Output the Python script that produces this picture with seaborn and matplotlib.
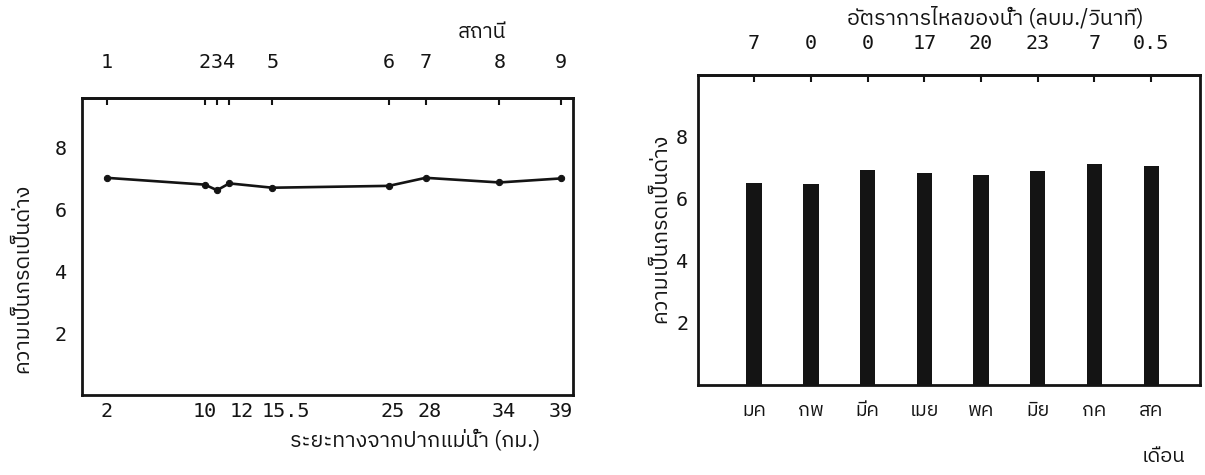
import matplotlib
matplotlib.use("Agg")
import matplotlib.pyplot as plt
import matplotlib.transforms as mtransforms
import seaborn as sns
from matplotlib import font_manager
from matplotlib.ft2font import FT2Font
from matplotlib.ticker import MultipleLocator

# ---------------- data ----------------
station_labels = ["1", "2", "3", "4", "5", "6", "7", "8", "9"]
distance_km = [2, 10, 11, 12, 15.5, 25, 28, 34, 39]
distance_labels = ["2", "10", "", "12", "15.5", "25", "28", "34", "39"]
ph_station = [7.02, 6.80, 6.62, 6.84, 6.70, 6.76, 7.02, 6.87, 7.00]

months = ["มค", "กพ", "มีค", "เมย", "พค", "มิย", "กค", "สค"]
ph_month = [6.52, 6.47, 6.93, 6.84, 6.79, 6.91, 7.14, 7.07]
flow_labels = ["7", "0", "0", "17", "20", "23", "7", "0.5"]

y_major = [2, 4, 6, 8]

# ---------------- fonts ----------------
def find_thai_fonts():
    found = []
    for f in font_manager.fontManager.ttflist:
        try:
            cm = FT2Font(f.fname).get_charmap()
        except Exception:
            continue
        if 0x0E01 in cm and 0x0E49 in cm and f.name not in found:
            found.append(f.name)
    found.sort(key=lambda n: (0 if "Sans" in n else 1, n))
    return found

thai = find_thai_fonts()
sns.set_theme(style="white")
fam_text = thai[:1] + ["DejaVu Sans"]
fam_num = ["DejaVu Sans Mono"] + thai[:1] + ["DejaVu Sans"]
plt.rcParams["font.family"] = fam_text
plt.rcParams["axes.linewidth"] = 2.0

fig = plt.figure(figsize=(12.05, 4.75), dpi=100)
fig.patch.set_facecolor("white")

W, H = 1205.0, 475.0
def box(x0, x1, ytop, ybot):
    return [x0 / W, 1 - ybot / H, (x1 - x0) / W, (ybot - ytop) / H]

ax1 = fig.add_axes(box(82, 573, 98, 395))
ax2 = fig.add_axes(box(698, 1200, 75, 385))

ink = "#141414"
NUM = 14.5

# ---------------- left: line chart ----------------
sns.lineplot(x=distance_km, y=ph_station, ax=ax1, color=ink, linewidth=1.9,
             marker="o", markersize=4.5, markeredgecolor=ink, markerfacecolor=ink)
ax1.set_xlim(0, 40)
ax1.set_ylim(0, 9.6)
ax1.set_xticks(distance_km)
ax1.set_xticklabels(distance_labels, family=fam_num, fontsize=NUM)
ax1.set_yticks(y_major)
ax1.set_yticklabels([str(v) for v in y_major], family=fam_num, fontsize=NUM)
ax1.yaxis.set_minor_locator(MultipleLocator(1))
ax1.tick_params(axis="x", direction="in", length=5, width=1.5, pad=5, colors=ink)
ax1.tick_params(axis="y", which="both", direction="in", length=4, width=1.5, pad=11, colors=ink)
ax1.tick_params(axis="y", which="minor", length=3)

# the typed labels in the original sit slightly right of some ticks
label_shift_px = {"12": 12, "15.5": 14, "25": 4, "28": 4, "34": 4}
for lab in ax1.get_xticklabels():
    dx = label_shift_px.get(lab.get_text(), 0)
    if dx:
        lab.set_transform(lab.get_transform() +
                          mtransforms.ScaledTranslation(dx / 100.0, 0, fig.dpi_scale_trans))

top1 = ax1.secondary_xaxis("top")
top1.set_xticks(distance_km)
top1.set_xticklabels(station_labels, family=fam_num, fontsize=NUM)
top1.tick_params(direction="in", length=5, width=1.5, pad=19, colors=ink)
top1.spines["top"].set_linewidth(2.0)
ax1.set_xlabel("")
ax1.set_ylabel("")

# ---------------- right: bar chart ----------------
sns.barplot(x=months, y=ph_month, ax=ax2, color=ink, width=0.27,
            saturation=1, edgecolor=ink, linewidth=0)
ax2.set_xlim(-0.99, 7.86)
ax2.set_ylim(0, 10)
ax2.set_xticks(range(len(months)))
ax2.set_xticklabels(months, fontsize=14, family=fam_text)
ax2.set_yticks(y_major)
ax2.set_yticklabels([str(v) for v in y_major], family=fam_num, fontsize=NUM)
ax2.yaxis.set_minor_locator(MultipleLocator(1))
ax2.tick_params(axis="x", direction="in", length=0, pad=12, colors=ink)
ax2.tick_params(axis="y", which="both", direction="in", length=4, width=1.5, pad=7, colors=ink)
ax2.tick_params(axis="y", which="minor", length=3)
top2 = ax2.secondary_xaxis("top")
top2.set_xticks(range(len(flow_labels)))
top2.set_xticklabels(flow_labels, family=fam_num, fontsize=NUM)
top2.tick_params(direction="in", length=5, width=1.5, pad=16, colors=ink)
top2.spines["top"].set_linewidth(2.0)
ax2.set_xlabel("")
ax2.set_ylabel("")

for ax in (ax1, ax2):
    for s in ax.spines.values():
        s.set_color(ink)
        s.set_linewidth(2.0)
    ax.set_facecolor("white")

# ---------------- texts ----------------
def ftext(x, y, s, **kw):
    fig.text(x / W, 1 - y / H, s, ha="center", va="center", color=ink,
             family=fam_text, **kw)

ylab = "ความเป็นกรดเป็นด่าง"
ftext(482, 33, "สถานี", fontsize=15)
ftext(415, 440, "ระยะทางจากปากแม่น้ำ (กม.)", fontsize=15.5)
ftext(22, 278, ylab, fontsize=15.5, rotation=90)
ftext(995, 18, "อัตราการไหลของน้ำ (ลบม./วินาที)", fontsize=15.5)
ftext(1163, 457, "เดือน", fontsize=14.5)
ftext(660, 228, ylab, fontsize=15.5, rotation=90)

fig.savefig("out.png", dpi=100, facecolor="white")
